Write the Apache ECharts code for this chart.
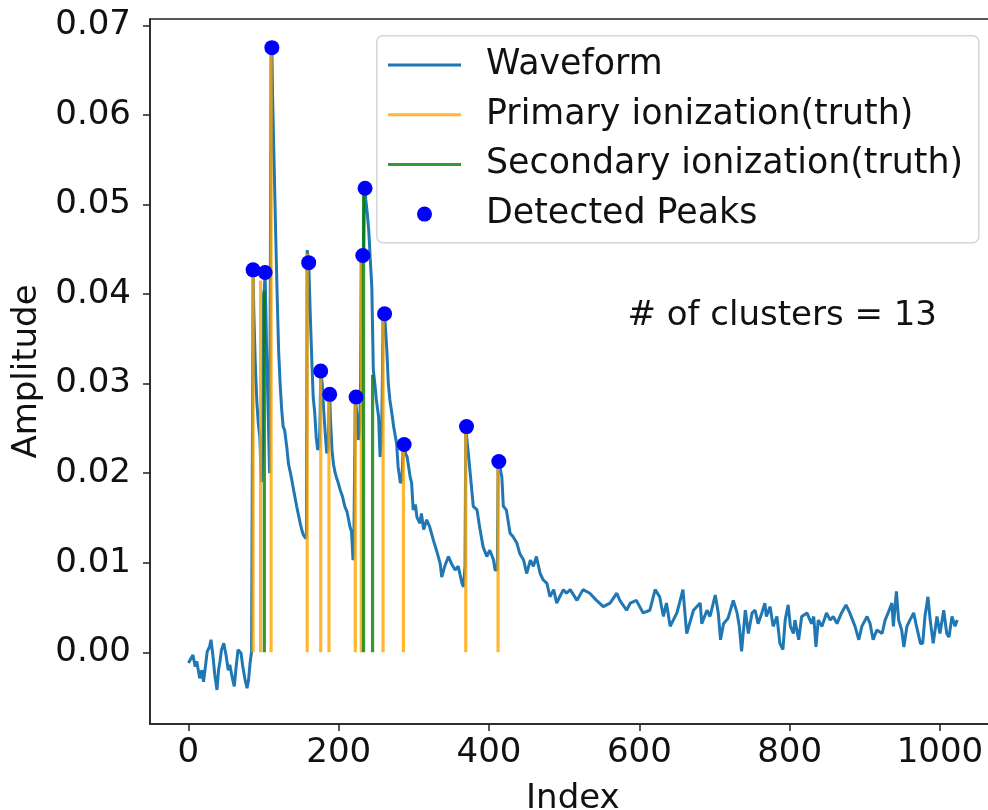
<!DOCTYPE html>
<html><head><meta charset="utf-8">
<script src="https://cdn.jsdelivr.net/npm/echarts@6/dist/echarts.min.js"></script>
<style>html,body{margin:0;padding:0;background:#fff}#c{width:988px;height:810px}</style>
</head><body><div id="c"></div>
<script>
// ---- data ----
const waveIdx = [0,2,6,9,11,15,18,20,22,25,28,30,33,35,38,40,42,44,47,50,53,55,59,61,63,66,70,72,75,78,80,82,84,85,
86,87,89,91,93,95,97,99,100,101,102,104,106,108,110,111,112,114,116,118,120,122,124,126,128,131,133,135,137,140,142,144,146,149,151,153,156,157,
158,160,162,164,166,168,170,172,174,175,176,178,180,182,184,186,187,188,189,191,193,195,197,199,202,205,208,211,213,215,217,219,220,222,223,225,226,228,229,230,232,233,234,235,236,238,240,242,244,246,248,250,253,255,257,258,259,261,264,266,268,271,273,277,279,282,284,286,287,289,291,293,295,297,299,302,304,308,310,313,317,
321,326,330,335,337,341,346,350,355,359,364,366,368,369,370,372,377,379,384,388,392,397,401,406,408,411,412,413,417,419,423,428,432,437,441,446,450,455,459,463,468,472,477,481,486,490,494,499,503,508,517,525,534,543,552,561,570,574,583,588,596,605,614,621,627,632,636,641,650,658,663,672,
681,683,690,694,701,705,708,712,718,725,730,733,736,741,745,750,754,758,763,767,769,774,778,783,787,791,794,798,801,805,807,812,816,823,829,832,835,838,843,849,854,858,863,869,875,880,887,892,896,903,907,911,916,923,927,931,936,938,942,945,949,952,956,960,965,968,974,977,980,984,987,991,996,1000,1005,1009,1012,1016,1020,1023];
const waveAmp = [-0.0012,-0.0010,-0.0003,-0.0016,-0.0010,-0.0029,-0.0020,-0.0033,-0.0020,0.0001,0.0006,0.0014,-0.0007,-0.0025,-0.0042,-0.0020,-0.0010,0.0003,0.0010,-0.0003,-0.0020,-0.0014,-0.0031,-0.0038,-0.0020,0.0003,-0.0001,-0.0014,-0.0029,-0.0040,-0.0031,-0.0012,0.0001,0.0000,
0.0426,0.0380,0.0320,0.0280,0.0255,0.0240,0.0190,0.0235,0.0400,0.0405,0.0424,0.0340,0.0270,0.0200,0.0669,0.0675,0.0620,0.0545,0.0470,0.0400,0.0337,0.0300,0.0272,0.0252,0.0248,0.0228,0.0211,0.0203,0.0195,0.0181,0.0172,0.0163,0.0155,0.0143,0.0136,0.0131,0.0127,0.0130,
0.0449,0.0436,0.0380,0.0330,0.0285,0.0268,0.0240,0.0226,0.0230,0.0255,0.0314,0.0300,0.0270,0.0245,0.0222,0.0228,0.0275,0.0288,0.0260,0.0226,0.0210,0.0201,0.0195,0.0190,0.0181,0.0174,0.0163,0.0157,0.0155,0.0140,0.0135,0.0103,0.0112,0.0285,0.0285,0.0258,0.0237,0.0250,0.0300,0.0440,0.0443,0.0436,0.0505,0.0518,0.0505,0.0490,0.0470,0.0438,0.0408,0.0315,0.0300,0.0282,0.0263,0.0218,0.0240,0.0300,0.0382,0.0378,0.0337,0.0300,0.0282,0.0265,0.0252,0.0233,0.0207,0.0189,0.0192,0.0232,0.0232,0.0222,0.0218,0.0218,0.0196,0.0189,0.0159,0.0165,0.0151,0.0144,0.0155,0.0137,0.0148,
0.0140,0.0125,0.0114,0.0099,0.0084,0.0096,0.0107,0.0099,0.0092,0.0096,0.0077,0.0073,0.0096,0.0250,0.0252,0.0226,0.0181,0.0163,0.0159,0.0137,0.0118,0.0107,0.0114,0.0103,0.0092,0.0092,0.0205,0.0213,0.0196,0.0163,0.0159,0.0133,0.0129,0.0122,0.0110,0.0103,0.0088,0.0103,0.0096,0.0107,0.0088,0.0081,0.0077,0.0062,0.0070,0.0055,0.0062,0.0070,0.0066,0.0070,0.0058,0.0070,0.0066,0.0058,0.0051,0.0055,0.0066,0.0058,0.0047,0.0055,0.0058,0.0044,0.0047,0.0070,0.0062,0.0040,0.0055,0.0029,0.0044,0.0070,0.0021,0.0047,
0.0055,0.0032,0.0047,0.0040,0.0064,0.0044,0.0014,0.0032,0.0038,0.0058,0.0044,0.0029,0.0001,0.0047,0.0021,0.0044,0.0047,0.0032,0.0044,0.0055,0.0040,0.0051,0.0029,0.0040,0.0010,0.0003,0.0036,0.0053,0.0029,0.0021,0.0036,0.0014,0.0040,0.0044,0.0032,0.0040,0.0006,0.0036,0.0029,0.0044,0.0036,0.0040,0.0032,0.0044,0.0053,0.0044,0.0029,0.0014,0.0029,0.0040,0.0032,0.0014,0.0025,0.0021,0.0036,0.0044,0.0055,0.0029,0.0068,0.0036,0.0025,0.0006,0.0029,0.0036,0.0044,0.0032,0.0010,0.0010,0.0040,0.0062,0.0036,0.0010,0.0040,0.0021,0.0047,0.0021,0.0017,0.0040,0.0029,0.0036];

const primaryIdx = [86, 96, 110, 158, 176, 187, 222, 230, 259, 286, 369, 412];
const primaryAmp = [0.0425, 0.0415, 0.0669, 0.0445, 0.0312, 0.0288, 0.0285, 0.0440, 0.0380, 0.0232, 0.0252, 0.0213];
const secondaryIdx = [101, 233, 245];
const secondaryAmp = [0.0403, 0.0516, 0.0310];

const peakIdx = [86, 102, 111, 160, 176, 188, 223, 232, 235, 261, 287, 370, 413];
const peakAmp = [0.0427, 0.0424, 0.0675, 0.0435, 0.0314, 0.0288, 0.0285, 0.0443, 0.0518, 0.0378, 0.0232, 0.0252, 0.0213];

const xTicks = [0, 200, 400, 600, 800, 1000];
const yTicks = [0.00, 0.01, 0.02, 0.03, 0.04, 0.05, 0.06, 0.07];
const seriesNames = ['Waveform', 'Primary ionization(truth)', 'Secondary ionization(truth)', 'Detected Peaks'];
const annotText = '# of clusters = 13';
const annotPos = [584, 0.0375];

// ---- build ----
const FONT = 'DejaVu Sans';
const wave = waveIdx.map((x, i) => [x, waveAmp[i]]);
const stems = (xs, hs) => xs.flatMap((x, i) => [[x, 0], [x, hs[i]], [x, '-']]);
const peaks = peakIdx.map((x, i) => [x, peakAmp[i]]);
const LINE_ICON = 'path://M0,0H73V3H0Z';

const chart = echarts.init(document.getElementById('c'), null, {renderer: 'canvas'});
chart.setOption({
  animation: false,
  backgroundColor: '#fff',
  grid: {left: 150, top: 19, width: 845.7, height: 705, show: true, borderColor: '#222', borderWidth: 1.5,
         backgroundColor: 'transparent', containLabel: false, outerBoundsMode: 'none'},
  xAxis: {
    type: 'value', min: -51.15, max: 1074.15,
    axisLine: {show: true, onZero: false, lineStyle: {color: '#222', width: 1.5}},
    axisTick: {show: true, length: 7, lineStyle: {color: '#222', width: 1.5}, customValues: xTicks},
    axisLabel: {customValues: xTicks, formatter: v => String(Math.round(v)), fontSize: 34, fontFamily: FONT, color: '#111', margin: 12},
    splitLine: {show: false},
    name: 'Index', nameLocation: 'middle', nameGap: 58,
    nameTextStyle: {fontSize: 34, fontFamily: FONT, color: '#111'}
  },
  yAxis: {
    type: 'value', min: -0.0080, max: 0.0707,
    axisLine: {show: true, onZero: false, lineStyle: {color: '#222', width: 1.5}},
    axisTick: {show: true, length: 7, lineStyle: {color: '#222', width: 1.5}, customValues: yTicks},
    axisLabel: {customValues: yTicks, formatter: v => v.toFixed(2), fontSize: 34, fontFamily: FONT, color: '#111', margin: 19, padding: [9, 0, 0, 0]},
    splitLine: {show: false},
    name: 'Amplitude', nameLocation: 'middle', nameRotate: 90, nameGap: 104,
    nameTextStyle: {fontSize: 34, fontFamily: FONT, color: '#111'}
  },
  legend: {
    orient: 'vertical', left: 383, top: 40, itemWidth: 73, itemHeight: 15, itemGap: 9.7,
    data: [
      {name: seriesNames[0], icon: LINE_ICON},
      {name: seriesNames[1], icon: LINE_ICON},
      {name: seriesNames[2], icon: LINE_ICON},
      {name: seriesNames[3], icon: 'circle'}
    ],
    selectedMode: false,
    textStyle: {fontSize: 34.8, fontFamily: FONT, color: '#111', lineHeight: 40, padding: [0, 0, 0, 20]}
  },
  graphic: [{
    type: 'rect', z: 0, left: 376, top: 35,
    shape: {width: 602, height: 207, r: 6},
    style: {fill: 'rgba(255,255,255,0.8)', stroke: '#d6d6d6', lineWidth: 1.5}
  }],
  series: [
    {name: seriesNames[0], type: 'line', data: wave, symbol: 'none', showSymbol: false,
     lineStyle: {color: '#1f77b4', width: 3}, itemStyle: {color: '#1f77b4'}, z: 2},
    {name: seriesNames[1], type: 'line', data: stems(primaryIdx, primaryAmp), symbol: 'none', showSymbol: false, connectNulls: false,
     lineStyle: {color: '#ffa500', width: 3.2, opacity: 0.8}, itemStyle: {color: '#ffa500', opacity: 0.8}, z: 3},
    {name: seriesNames[2], type: 'line', data: stems(secondaryIdx, secondaryAmp), symbol: 'none', showSymbol: false, connectNulls: false,
     lineStyle: {color: '#008000', width: 3.2, opacity: 0.8}, itemStyle: {color: '#008000', opacity: 0.8}, z: 4},
    {name: seriesNames[3], type: 'scatter', data: peaks, symbol: 'circle', symbolSize: 15,
     itemStyle: {color: '#0000ff', opacity: 1}, z: 5},
    {name: 'annotation', type: 'scatter', data: [annotPos], symbolSize: 0.1, silent: true,
     itemStyle: {color: '#ffffff', opacity: 1},
     label: {show: true, position: 'right', distance: 0, formatter: annotText, fontSize: 34, fontFamily: FONT, color: '#111', opacity: 1}, z: 6}
  ]
});
</script>
</body></html>
